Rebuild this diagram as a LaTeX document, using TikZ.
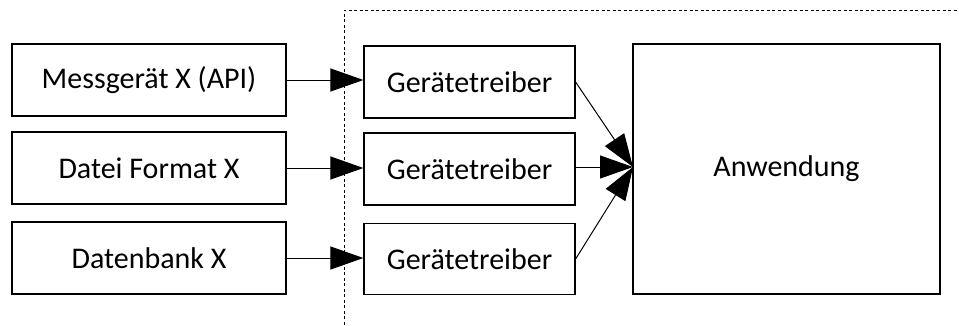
\documentclass[tikz,border=0pt]{standalone}
\usepackage{fontspec}
\setmainfont{Carlito}
\usetikzlibrary{arrows.meta}
\begin{document}
\begin{tikzpicture}[x=1pt,y=-1pt,
  box/.style={draw, line width=1.2pt, inner sep=0pt, font=\fontsize{30}{34}\selectfont},
  link/.style={line width=1pt, -{Triangle[length=33pt,width=23pt]}},
  border/.style={line width=1pt, dash pattern=on 3pt off 2.5pt}]
  \useasboundingbox (0,0) rectangle (959,325);
  % sources
  \node[box, minimum width=274pt, minimum height=72pt] (s1) at (149,80) {Messgerät X (API)};
  \node[box, minimum width=274pt, minimum height=72pt] (s2) at (149,168) {Datei Format X};
  \node[box, minimum width=274pt, minimum height=72pt] (s3) at (149,258) {Datenbank X};
  % drivers
  \node[box, minimum width=211pt, minimum height=72pt] (d1) at (469.5,82) {Gerätetreiber};
  \node[box, minimum width=211pt, minimum height=72pt] (d2) at (469.5,169) {Gerätetreiber};
  \node[box, minimum width=211pt, minimum height=71pt] (d3) at (469.5,259) {Gerätetreiber};
  % application
  \node[box, minimum width=307pt, minimum height=250pt] (app) at (786.5,169) {Anwendung};
  \coordinate (hub) at (633,167);
  % driver boundary
  \coordinate (bb) at (344,330);
  \coordinate (bt) at (344,10);
  \coordinate (br) at (962,10);
  \draw[border] (bb) -- (bt) -- (br);
  % connectors
  \draw[link] (s1.east) -- (s1.east -| d1.west);
  \draw[link] (s2.east) -- (s2.east -| d2.west);
  \draw[link] (s3.east) -- (s3.east -| d3.west);
  \draw[link] (d1.east) -- (hub);
  \draw[link] (d2.east |- hub) -- (hub);
  \draw[link] (d3.east) -- (hub);
\end{tikzpicture}
\end{document}
